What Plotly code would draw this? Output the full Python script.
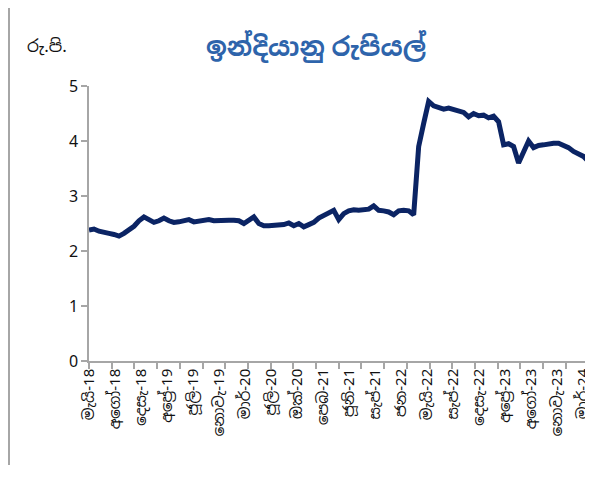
import plotly.graph_objects as go
import numpy as np

# Indian rupee value (LKR per INR) at equal steps
values = [2.38, 2.40, 2.36, 2.35, 2.32, 2.30, 2.27, 2.32, 2.38, 2.45,
          2.55, 2.62, 2.57, 2.52, 2.55, 2.60, 2.55, 2.52, 2.53, 2.55,
          2.57, 2.53, 2.54, 2.56, 2.57, 2.55, 2.56, 2.55, 2.56, 2.56,
          2.55, 2.50, 2.55, 2.62, 2.50, 2.46, 2.46, 2.47, 2.46, 2.48,
          2.51, 2.46, 2.50, 2.44, 2.48, 2.52, 2.60, 2.65, 2.68, 2.74,
          2.57, 2.68, 2.73, 2.75, 2.74, 2.74, 2.76, 2.82, 2.74, 2.73,
          2.71, 2.66, 2.73, 2.74, 2.73, 2.66, 3.90, 4.32, 4.72, 4.64,
          4.62, 4.58, 4.60, 4.57, 4.55, 4.52, 4.44, 4.50, 4.46, 4.47,
          4.42, 4.45, 4.35, 3.93, 3.95, 3.90, 3.60, 3.82, 4.00, 3.88,
          3.92, 3.93, 3.95, 3.96, 3.96, 3.93, 3.88, 3.81, 3.77, 3.72,
          3.63]

tick_labels = ["මැයි-18", "අගෝ-18", "දෙසැ-18", "අප්‍රේ-19", "ජූලි-19",
               "නොවැ-19", "මාර්-20", "ජූලි-20", "ඔක්-20", "පෙබ-21",
               "ජූනි-21", "සැප්-21", "ජන-22", "මැයි-22", "සැප්-22",
               "දෙසැ-22", "අප්‍රේ-23", "අගෝ-23", "නොවැ-23", "මාර්-24"]

title_text = "ඉන්දියානු රුපියල්"
unit_text = "රු.පි."

x = list(range(len(values)))
n = len(values) - 1
label_pos = list(np.linspace(0, n - 1.0, len(tick_labels)))
tick_pos = list(np.linspace(0, n, 23))

fig = go.Figure()
fig.add_trace(go.Scatter(x=x, y=values, mode="lines",
                         line=dict(color="#0b2464", width=5, shape="linear"),
                         showlegend=False, hoverinfo="skip"))

OFF = 8  # page body margin
W, H = 593 - OFF, 483 - OFF
L, R, T, B = 89 - OFF, 3, 86 - OFF, 130 - OFF
pw = W - L - R
ph = H - T - B


def px(xp):
    return (xp - OFF - L) / pw


def py(yp):
    return (H - B - (yp - OFF)) / ph


fig.update_layout(
    width=W, height=H,
    margin=dict(l=L, r=R, t=T, b=B, autoexpand=False),
    paper_bgcolor="white", plot_bgcolor="white",
    font=dict(family="Noto Sans, Noto Sans Sinhala, sans-serif", color="#111111"),
    xaxis=dict(range=[0, n + 0.3], tickmode="array", tickvals=label_pos,
               ticktext=tick_labels, tickangle=-90, ticks="",
               ticklabeloverflow="allow",
               showgrid=False, zeroline=False, showline=True,
               linecolor="#a6a6a6", linewidth=1.5,
               tickfont=dict(size=15, color="#111111"),
               minor=dict(tickmode="array", tickvals=tick_pos, ticks="outside",
                          ticklen=6, tickcolor="#a6a6a6", tickwidth=1.5, showgrid=False)),
    yaxis=dict(range=[0, 5], tickmode="array", tickvals=[0, 1, 2, 3, 4, 5],
               ticks="outside", ticklen=6, tickcolor="#a6a6a6", tickwidth=1.5,
               showgrid=False, zeroline=False, showline=True,
               linecolor="#a6a6a6", linewidth=1.5,
               tickfont=dict(size=16, color="#111111")),
)

# Title and unit label
fig.add_annotation(text="<b>" + title_text + "</b>", xref="paper", yref="paper",
                   x=px(316), y=py(46), showarrow=False,
                   font=dict(size=26, color="#2e64ab"), xanchor="center", yanchor="middle")
fig.add_annotation(text=unit_text, xref="paper", yref="paper",
                   x=px(25), y=py(46), showarrow=False,
                   font=dict(size=17, color="#111111"), xanchor="left", yanchor="middle")

# Left border line of the chart frame
fig.add_shape(type="line", xref="paper", yref="paper",
              x0=px(9), x1=px(9), y0=py(0), y1=py(465),
              line=dict(color="#a6a6a6", width=2))

fig.write_html("out.html")
